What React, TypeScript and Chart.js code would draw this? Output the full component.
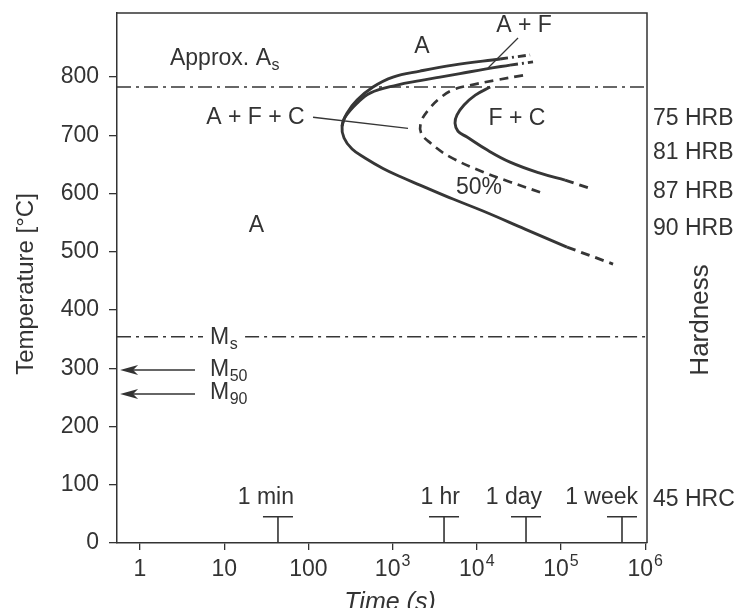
import React, { useEffect, useRef } from "react";
import { Chart, registerables } from "chart.js";
Chart.register(...registerables);

// ---------- data ----------
const startTime = [18870, 5213, 2115, 1011, 585, 378, 287, 251, 265, 330, 470, 769, 1224, 2115, 5213, 11850, 37350, 117800];
const startTemp = [831, 820.6, 810.3, 800, 783, 760.5, 738, 716, 695.3, 676.4, 661, 643, 629.2, 614.6, 590.6, 570, 539, 508];
const startUpperExtTime = [18870, 42900];
const startUpperExtTemp = [831, 838];
const startLowerExtTime = [117800, 415000];
const startLowerExtTemp = [508, 479];

const innerTime = [251, 272, 378, 540, 1128, 2115, 3656, 6310, 12510, 24800];
const innerTemp = [716, 731, 755, 772.5, 786.3, 794, 800, 806, 813.7, 820.6];
const innerExtTime = [24800, 46500];
const innerExtTemp = [820.6, 826];

const fiftyTime = [35400, 17400, 8300, 5200, 3660, 2640, 2180, 2180, 2800, 4800, 11850, 24800, 59500];
const fiftyTemp = [803, 795, 786, 778, 764, 743, 723, 704, 687, 663, 637, 620, 601];

const finishTime = [14400, 9600, 7050, 5820, 5510, 5980, 7650, 13200, 24800, 56300, 111600];
const finishTemp = [783, 769, 752, 735, 721, 707, 697, 675, 654, 635, 623];
const finishExtTime = [111600, 221000];
const finishExtTemp = [623, 609];

const xMin = 0.533;
const xMax = 1.05e6;
const yMax = 910;

const asTemp = 783;
const msTemp = 354;
const msGapTimes = [5.6, 17.7];

const afcLeaderTime = [113.5, 1524];
const afcLeaderTemp = [731, 712];
const afLeaderTime = [30850, 13580];
const afLeaderTemp = [867, 815.5];

const arrowFromTime = 4.5;
const arrowToTime = 0.58;
const arrowTemps = [297, 256];

const markerTimes = [43.5, 4080, 38400, 530000];
const markerLabels = ["1 min", "1 hr", "1 day", "1 week"];
const markerHeight = 45;

const hardnessLabels = ["75 HRB", "81 HRB", "87 HRB", "90 HRB", "45 HRC"];
const hardnessTemps = [728, 670, 603, 540, 74];

const xTickValues = [1, 10, 100, 1e3, 1e4, 1e5, 1e6];
const xTickBase = ["1", "10", "100", "10", "10", "10", "10"];
const xTickExp = ["", "", "", "3", "4", "5", "6"];
const yTickValues = [0, 100, 200, 300, 400, 500, 600, 700, 800];

const regionLabels = ["A", "A", "A + F", "A + F + C", "F + C", "50%"];
const regionTimes = [2235, 24.2, 36400, 23.5, 30000, 10600];
const regionTemps = [851.5, 545, 887.6, 730.5, 728, 610];

const subMain = ["Approx. A", "M", "M", "M"];
const subText = ["s", "s", "50", "90"];
const subTimes = [2.27, 6.78, 6.78, 6.78];
const subTemps = [831.8, 352.8, 297.9, 258.4];

// ---------- styles ----------
const FONT = '"Liberation Sans", Arial, Helvetica, sans-serif';
const INK = "#333333";
const LINE = "#363636";

const pts = (xs: number[], ys: number[]) => xs.map((x, i) => ({ x, y: ys[i] }));

function lineDs(data: any[], opts: any = {}) {
  return {
    data,
    showLine: true,
    pointRadius: 0,
    borderColor: LINE,
    borderWidth: 2.9,
    tension: 0.4,
    fill: false,
    ...opts,
  };
}

const overlay = {
  id: "overlay",
  afterDraw(chart: any) {
    const { ctx, chartArea: a } = chart;
    const x = chart.scales.x;
    const y = chart.scales.y;
    const px = (v: number) => x.getPixelForValue(v);
    const py = (v: number) => y.getPixelForValue(v);
    ctx.save();

    // box top and right
    ctx.strokeStyle = INK;
    ctx.lineWidth = 1.5;
    ctx.beginPath();
    ctx.moveTo(a.left, a.top);
    ctx.lineTo(a.right, a.top);
    ctx.lineTo(a.right, a.bottom);
    ctx.stroke();

    ctx.fillStyle = INK;

    // x tick labels with superscripts
    xTickValues.forEach((v, i) => {
      const cx = px(v);
      const cy = a.bottom + 27;
      ctx.font = `23px ${FONT}`;
      const wm = ctx.measureText(xTickBase[i]).width;
      ctx.font = `16px ${FONT}`;
      const we = xTickExp[i] ? ctx.measureText(xTickExp[i]).width + 1 : 0;
      const left = cx - (wm + we) / 2;
      ctx.textAlign = "left";
      ctx.textBaseline = "middle";
      ctx.font = `23px ${FONT}`;
      ctx.fillText(xTickBase[i], left, cy);
      if (xTickExp[i]) {
        ctx.font = `16px ${FONT}`;
        ctx.fillText(xTickExp[i], left + wm + 1, cy - 8);
      }
    });

    // region labels
    ctx.font = `23px ${FONT}`;
    ctx.textAlign = "center";
    ctx.textBaseline = "middle";
    regionLabels.forEach((t, i) => ctx.fillText(t, px(regionTimes[i]), py(regionTemps[i])));

    // labels with subscripts
    subMain.forEach((m, i) => {
      const lx = px(subTimes[i]);
      const ly = py(subTemps[i]);
      ctx.textAlign = "left";
      ctx.textBaseline = "middle";
      ctx.font = `23px ${FONT}`;
      ctx.fillText(m, lx, ly);
      const w = ctx.measureText(m).width;
      ctx.font = `16px ${FONT}`;
      ctx.fillText(subText[i], lx + w + 0.5, ly + 7);
    });

    // arrows M50 / M90
    ctx.strokeStyle = INK;
    ctx.lineWidth = 1.5;
    arrowTemps.forEach((T) => {
      const yy = py(T);
      const x0 = px(arrowFromTime);
      const tip = px(arrowToTime);
      ctx.beginPath();
      ctx.moveTo(x0, yy);
      ctx.lineTo(tip + 10, yy);
      ctx.stroke();
      ctx.beginPath();
      ctx.moveTo(tip, yy);
      ctx.lineTo(tip + 18, yy - 5);
      ctx.lineTo(tip + 13, yy);
      ctx.lineTo(tip + 18, yy + 5);
      ctx.closePath();
      ctx.fill();
    });

    // time markers
    ctx.lineWidth = 1.6;
    markerTimes.forEach((t, i) => {
      const mx = px(t);
      const top = py(markerHeight);
      ctx.beginPath();
      ctx.moveTo(mx, a.bottom);
      ctx.lineTo(mx, top);
      ctx.moveTo(mx - 15, top);
      ctx.lineTo(mx + 15, top);
      ctx.stroke();
      ctx.font = `23px ${FONT}`;
      ctx.textAlign = "right";
      ctx.textBaseline = "middle";
      ctx.fillText(markerLabels[i], mx + 16, top - 19);
    });

    // hardness labels
    ctx.font = `23px ${FONT}`;
    ctx.textAlign = "left";
    ctx.textBaseline = "middle";
    hardnessLabels.forEach((t, i) => ctx.fillText(t, a.right + 6, py(hardnessTemps[i])));

    // titles
    ctx.textAlign = "center";
    ctx.textBaseline = "middle";
    ctx.save();
    ctx.translate(18, 276);
    ctx.rotate(-Math.PI / 2);
    ctx.font = `24px ${FONT}`;
    ctx.fillText("Temperature [°C]", 0, 0);
    ctx.restore();

    ctx.save();
    ctx.translate(a.right + 54, 312);
    ctx.rotate(-Math.PI / 2);
    ctx.font = `26px ${FONT}`;
    ctx.fillText("Hardness", 0, 0);
    ctx.restore();

    ctx.font = `italic 25px ${FONT}`;
    ctx.fillText("Time (s)", 382, 595);

    ctx.restore();
  },
};

export default function App() {
  const ref = useRef<HTMLCanvasElement | null>(null);

  useEffect(() => {
    if (!ref.current) return;
    const dashDot = [14, 5, 3, 5];
    const chart = new Chart(ref.current, {
      type: "scatter",
      data: {
        datasets: [
          lineDs(pts(startTime, startTemp)),
          lineDs(pts(startUpperExtTime, startUpperExtTemp), { borderDash: [8, 4, 2, 4], tension: 0 }),
          lineDs(pts(startLowerExtTime, startLowerExtTemp), { borderDash: [9, 6], tension: 0 }),
          lineDs(pts(innerTime, innerTemp)),
          lineDs(pts(innerExtTime, innerExtTemp), { borderDash: [8, 4, 2, 4], tension: 0 }),
          lineDs(pts(fiftyTime, fiftyTemp), { borderDash: [9, 6], borderWidth: 2.7 }),
          lineDs(pts(finishTime, finishTemp)),
          lineDs(pts(finishExtTime, finishExtTemp), { borderDash: [9, 6], tension: 0 }),
          lineDs(pts([xMin, xMax], [asTemp, asTemp]), { borderDash: dashDot, borderWidth: 1.4, tension: 0 }),
          lineDs(pts([xMin, msGapTimes[0]], [msTemp, msTemp]), { borderDash: dashDot, borderWidth: 1.4, tension: 0 }),
          lineDs(pts([msGapTimes[1], xMax], [msTemp, msTemp]), { borderDash: dashDot, borderWidth: 1.4, tension: 0 }),
          lineDs(pts(afcLeaderTime, afcLeaderTemp), { borderWidth: 1.3, tension: 0 }),
          lineDs(pts(afLeaderTime, afLeaderTemp), { borderWidth: 1.3, tension: 0 }),
        ],
      },
      options: {
        animation: false,
        responsive: true,
        maintainAspectRatio: false,
        layout: { padding: { left: 0, right: 87, top: 5, bottom: 0 } },
        plugins: { legend: { display: false }, tooltip: { enabled: false } },
        scales: {
          x: {
            type: "logarithmic",
            min: xMin,
            max: xMax,
            afterBuildTicks: (s: any) => {
              s.ticks = xTickValues.map((v) => ({ value: v, major: true }));
            },
            afterFit: (s: any) => {
              s.height = 65;
              s.paddingLeft = 0;
              s.paddingRight = 0;
              s.paddingTop = 0;
              s.paddingBottom = 0;
            },
            ticks: { display: false },
            grid: { display: true, drawOnChartArea: false, drawTicks: true, tickLength: 7, color: INK, lineWidth: 1.3 },
            border: { display: true, color: INK, width: 1.5 },
          },
          y: {
            type: "linear",
            min: 0,
            max: yMax,
            afterBuildTicks: (s: any) => {
              s.ticks = yTickValues.map((v) => ({ value: v }));
            },
            afterFit: (s: any) => {
              s.width = 109;
              s.paddingTop = 0;
              s.paddingBottom = 0;
              s.paddingLeft = 0;
              s.paddingRight = 0;
            },
            ticks: { color: INK, font: { family: FONT, size: 23 }, padding: 10 },
            grid: { display: true, drawOnChartArea: false, drawTicks: true, tickLength: 8, color: INK, lineWidth: 1.3 },
            border: { display: true, color: INK, width: 1.5 },
          },
        },
      },
      plugins: [overlay],
    } as any);
    return () => chart.destroy();
  }, []);

  return (
    <div style={{ width: 726, height: 600, position: "relative" }}>
      <canvas ref={ref} />
    </div>
  );
}
